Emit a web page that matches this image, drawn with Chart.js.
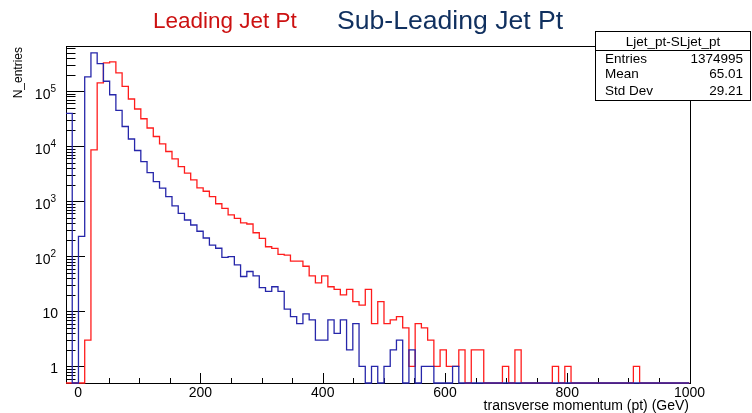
<!DOCTYPE html>
<html>
<head>
<meta charset="utf-8">
<script src="https://cdn.jsdelivr.net/npm/chart.js@4.4.1/dist/chart.umd.min.js"></script>
<style>
  body { margin: 0; background: #fff; }
  #wrap { width: 752px; height: 413px; }
</style>
</head>
<body>
<div id="wrap"><canvas id="histo" width="752" height="413"></canvas></div>
<script>
// histogram binning (100 bins from -20 to 1000 GeV)
var nBins = 100
var xLow = -20
var xHigh = 1000

// axis ranges
var yMin = 0.5
var yMax = 660000

// Leading jet pt counts per bin
var leadingCounts = [
    0, 0, 0, 3, 8600, 141000, 327000, 340000, 215000, 122000,
    72000, 47400, 31500, 21400, 15000, 11000, 8000, 5900, 4270, 3240,
    2450, 1750, 1520, 1213, 900, 745, 565, 490, 405, 386,
    268, 212, 149, 139, 108, 105, 82, 82, 66, 44,
    33, 44, 28, 25, 20, 25, 15, 13, 25, 6,
    15, 6, 7, 8, 5, 1, 6, 5, 3, 1,
    2, 1, 1, 2, 0, 2, 2, 0, 0, 0,
    1, 0, 2, 0, 0, 0, 0, 0, 1, 0,
    1, 0, 0, 0, 0, 0, 0, 0, 0, 0,
    0, 1, 0, 0, 0, 0, 0, 0, 0, 0
]

// Sub-leading jet pt counts per bin
var subLeadingCounts = [
    39500, 0, 230, 182000, 496000, 317000, 151000, 86000, 44700, 22800,
    13500, 8350, 5260, 3320, 2275, 1725, 1213, 821, 600, 456,
    370, 285, 215, 160, 140, 96, 99, 70, 43, 53,
    44, 27, 23, 28, 23, 11, 8, 6, 9, 7,
    3, 3, 7, 4, 7, 2, 6, 1, 0, 1,
    0, 1, 2, 3, 0, 2, 0, 1, 1, 0,
    0, 0, 1, 0, 0, 0, 0, 0, 0, 0,
    0, 0, 0, 0, 0, 0, 0, 0, 0, 0,
    0, 0, 0, 0, 0, 0, 0, 0, 0, 0,
    0, 0, 0, 0, 0, 0, 0, 0, 0, 0
]

// tick values and labels
var xTickValues = [0, 200, 400, 600, 800, 1000]
var xMinorStep = 50
var yTickValues = [1, 10, 100, 1000, 10000, 100000]
var yTickBase = ['1', '10', '10', '10', '10', '10']
var yTickExp = ['', '', '2', '3', '4', '5']

// stats box
var statsTitle = 'Ljet_pt-SLjet_pt'
var statsNames = ['Entries', 'Mean', 'Std Dev']
var statsValues = ['1374995', '65.01', '29.21']

var FONT = '"Liberation Sans", Arial, Helvetica, sans-serif'

// builds the outline of a step histogram (empty bins sit on the bottom of the frame)
function stepPoints(counts) {
    var w = (xHigh - xLow) / nBins
    var pts = []
    for (var i = 0; i < counts.length; i++) {
        var v = counts[i] > 0 ? counts[i] : yMin
        pts.push({ x: xLow + i * w, y: v })
        pts.push({ x: xLow + (i + 1) * w, y: v })
    }
    return pts
}

const rootFrame = {
    id: 'rootFrame',
    beforeDatasetsDraw(chart) {
        const { ctx, chartArea: a, scales: { x, y } } = chart
        ctx.save()
        ctx.strokeStyle = '#000'
        ctx.lineWidth = 1
        ctx.strokeRect(Math.round(a.left) + 0.5, Math.round(a.top) + 0.5,
            Math.round(a.right - a.left), Math.round(a.bottom - a.top))

        // x ticks, pointing inside the frame
        ctx.beginPath()
        for (var v = 0; v <= xHigh; v += xMinorStep) {
            var px = Math.round(x.getPixelForValue(v)) + 0.5
            var len = (v % 200 === 0) ? 10 : 5
            ctx.moveTo(px, a.bottom)
            ctx.lineTo(px, a.bottom - len)
        }
        // y ticks (log)
        for (var e = -1; e <= 5; e++) {
            for (var m = 1; m <= 9; m++) {
                var val = m * Math.pow(10, e)
                if (val < yMin || val > yMax) continue
                var py = Math.round(y.getPixelForValue(val)) + 0.5
                var l = (m === 1) ? 19 : 9.5
                ctx.moveTo(a.left, py)
                ctx.lineTo(a.left + l, py)
            }
        }
        ctx.stroke()
        ctx.restore()
    },
    afterDraw(chart) {
        const { ctx, chartArea: a, scales: { y } } = chart
        ctx.save()
        ctx.fillStyle = '#000'

        // y tick labels with exponents
        for (var i = 0; i < yTickValues.length; i++) {
            var py = y.getPixelForValue(yTickValues[i])
            if (yTickExp[i] === '') {
                ctx.font = '14px ' + FONT
                ctx.textAlign = 'right'
                ctx.fillText(yTickBase[i], 58, py + 7)
            } else {
                ctx.font = '10px ' + FONT
                ctx.textAlign = 'right'
                ctx.fillText(yTickExp[i], 56, py + 1)
                var ew = ctx.measureText(yTickExp[i]).width
                ctx.font = '14px ' + FONT
                ctx.fillText(yTickBase[i], 56 - ew, py + 8)
            }
        }

        // axis titles
        ctx.font = '14px ' + FONT
        ctx.textAlign = 'right'
        ctx.fillText('transverse momentum (pt) (GeV)', 689, 410)

        ctx.save()
        ctx.translate(22, 47)
        ctx.rotate(-Math.PI / 2)
        ctx.font = '12px ' + FONT
        ctx.textAlign = 'right'
        ctx.fillText('N_entries', 0, 0)
        ctx.restore()

        // titles
        ctx.textAlign = 'left'
        ctx.font = '22.5px ' + FONT
        ctx.fillStyle = '#cc1111'
        ctx.fillText('Leading Jet Pt', 153, 28)
        ctx.font = '26.6px ' + FONT
        ctx.fillStyle = '#10305f'
        ctx.fillText('Sub-Leading Jet Pt', 337, 29)

        // stats box
        var bx = 595, by = 31, bw = 156, bh = 69
        ctx.fillStyle = '#fff'
        ctx.fillRect(bx, by, bw, bh)
        ctx.strokeStyle = '#000'
        ctx.lineWidth = 1
        ctx.strokeRect(bx + 0.5, by + 0.5, bw - 1, bh)
        ctx.beginPath()
        ctx.moveTo(bx, 50.5)
        ctx.lineTo(bx + bw, 50.5)
        ctx.stroke()
        ctx.fillStyle = '#000'
        ctx.font = '13.5px ' + FONT
        ctx.textAlign = 'center'
        ctx.fillText(statsTitle, bx + bw / 2, 45.5)
        var rowY = [63.3, 78.3, 94.5]
        for (var r = 0; r < statsNames.length; r++) {
            ctx.textAlign = 'left'
            ctx.fillText(statsNames[r], 605, rowY[r])
            ctx.textAlign = 'right'
            ctx.fillText(statsValues[r], 743, rowY[r])
        }
        ctx.restore()
    }
}

const config = {
    type: 'line',
    data: {
        datasets: [
            {
                label: 'Sub-Leading Jet Pt',
                data: stepPoints(subLeadingCounts),
                borderColor: '#2626aa',
                borderWidth: 1.3,
                pointRadius: 0,
                fill: false,
                tension: 0,
                clip: { left: 0, top: 0, right: 0, bottom: 2 },
                order: 0
            },
            {
                label: 'Leading Jet Pt',
                data: stepPoints(leadingCounts),
                borderColor: '#ff1c1c',
                borderWidth: 1.3,
                pointRadius: 0,
                fill: false,
                tension: 0,
                clip: { left: 0, top: 0, right: 0, bottom: 2 },
                order: 1
            }
        ]
    },
    options: {
        responsive: false,
        animation: false,
        layout: { padding: { left: 0, right: 62.5, top: 46, bottom: 0 } },
        plugins: {
            legend: { display: false },
            tooltip: { enabled: false },
            title: { display: false }
        },
        scales: {
            x: {
                type: 'linear',
                min: xLow,
                max: xHigh,
                afterBuildTicks: function (s) {
                    s.ticks = xTickValues.map(function (v) { return { value: v } })
                },
                afterFit: function (s) { s.height = 30 },
                ticks: {
                    color: '#000',
                    font: { family: FONT, size: 14 },
                    padding: 2,
                    maxRotation: 0,
                    autoSkip: false,
                    callback: function (value) { return String(value) }
                },
                grid: { display: false, drawTicks: false },
                border: { display: false }
            },
            y: {
                type: 'logarithmic',
                min: yMin,
                max: yMax,
                afterFit: function (s) { s.width = 66 },
                ticks: { display: false },
                grid: { display: false, drawTicks: false },
                border: { display: false }
            }
        }
    },
    plugins: [rootFrame]
}

const myChart = new Chart(document.getElementById('histo'), config)
</script>
</body>
</html>
